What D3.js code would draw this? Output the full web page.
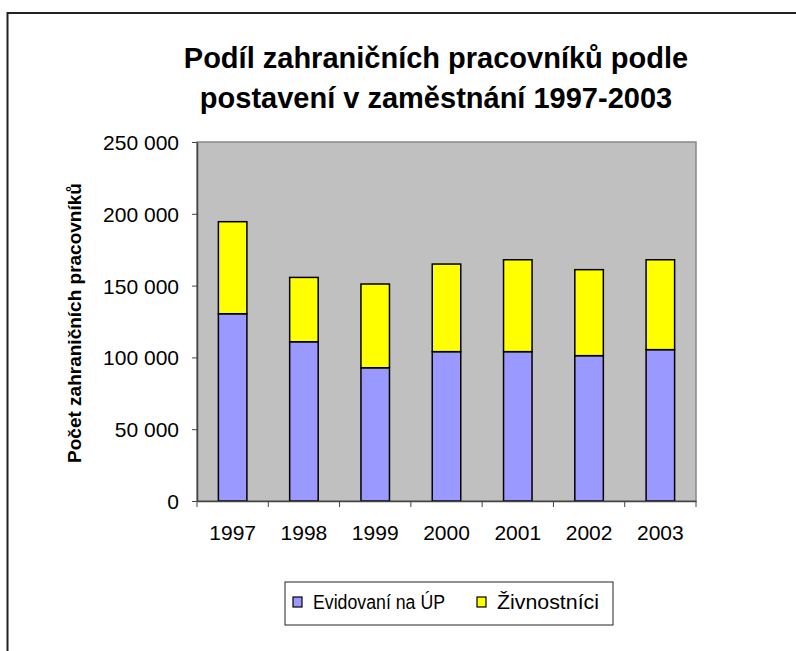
<!DOCTYPE html>
<html lang="cs">
<head>
    <meta charset="UTF-8">
    <title>Podíl zahraničních pracovníků</title>
    <script src="https://d3js.org/d3.v7.min.js"></script>
    <style>
        body {
            margin: 0;
            background: #fff;
            overflow: hidden;
        }
        text {
            font-family: "Liberation Sans", Arial, sans-serif;
            fill: #000;
        }
    </style>
</head>
<body>
<script>
    // data
    const years = ["1997", "1998", "1999", "2000", "2001", "2002", "2003"];
    const evidovani = [130400, 110900, 92800, 104000, 104000, 101200, 105400];
    const zivnostnici = [64100, 44800, 58300, 61000, 64000, 59900, 62600];
    const seriesNames = ["Evidovaní na ÚP", "Živnostníci"];
    const seriesColors = ["#9999ff", "#ffff00"];
    const yTicks = [0, 50000, 100000, 150000, 200000, 250000];

    const width = 796, height = 651;
    const plot = {left: 197, right: 696, top: 142, bottom: 501};

    const svg = d3.select("body").append("svg")
        .attr("width", width)
        .attr("height", height);

    // outer chart frame (runs off the right/bottom edge)
    svg.append("rect")
        .attr("x", 7.5).attr("y", 13)
        .attr("width", 800).attr("height", 700)
        .attr("fill", "#fff")
        .attr("stroke", "#222")
        .attr("stroke-width", 2);

    const x = d3.scaleBand()
        .domain(years)
        .range([plot.left, plot.right])
        .paddingInner(0.6)
        .paddingOuter(0.3);

    const y = d3.scaleLinear()
        .domain([0, 250000])
        .range([plot.bottom, plot.top]);

    // plot area
    svg.append("rect")
        .attr("x", plot.left).attr("y", plot.top)
        .attr("width", plot.right - plot.left)
        .attr("height", plot.bottom - plot.top)
        .attr("fill", "#c0c0c0")
        .attr("stroke", "#888")
        .attr("stroke-width", 1.5);

    // stacked bars
    const rows = years.map((yr, i) => ({year: yr, a: evidovani[i], b: zivnostnici[i]}));
    const stacked = d3.stack().keys(["a", "b"])(rows);

    svg.selectAll("g.series")
        .data(stacked)
        .join("g")
        .attr("class", "series")
        .attr("fill", (d, i) => seriesColors[i])
        .selectAll("rect")
        .data(d => d)
        .join("rect")
        .attr("x", d => x(d.data.year))
        .attr("width", x.bandwidth())
        .attr("y", d => y(d[1]))
        .attr("height", d => y(d[0]) - y(d[1]))
        .attr("stroke", "#000")
        .attr("stroke-width", 1.5);

    const fmt = v => d3.format(",")(v).replace(/,/g, " ");

    // y axis
    const yAxis = svg.append("g")
        .attr("transform", `translate(${plot.left},0)`)
        .call(d3.axisLeft(y).tickValues(yTicks).tickFormat(fmt)
            .tickSize(5).tickSizeOuter(0).tickPadding(13));
    yAxis.select(".domain").attr("stroke", "#444").attr("stroke-width", 1.5);
    yAxis.selectAll(".tick line").attr("stroke", "#444");
    yAxis.selectAll("text").style("font-size", "21px").attr("dy", "0.36em");

    // x axis with ticks between categories
    const xAxis = svg.append("g")
        .attr("transform", `translate(0,${plot.bottom})`)
        .call(d3.axisBottom(x).tickSize(0).tickSizeOuter(0).tickPadding(24));
    xAxis.select(".domain").attr("stroke", "#444").attr("stroke-width", 1.5);
    xAxis.selectAll("text").style("font-size", "21px");
    const edges = d3.range(years.length + 1).map(i => plot.left + i * (plot.right - plot.left) / years.length);
    xAxis.selectAll("line.sep")
        .data(edges)
        .join("line")
        .attr("class", "sep")
        .attr("x1", d => d).attr("x2", d => d)
        .attr("y1", 0).attr("y2", 6)
        .attr("stroke", "#444");

    // title
    svg.append("text")
        .attr("text-anchor", "middle")
        .style("font-size", "29px")
        .style("font-weight", "bold")
        .selectAll("tspan")
        .data(["Podíl zahraničních pracovníků podle", "postavení v zaměstnání 1997-2003"])
        .join("tspan")
        .attr("x", 436)
        .attr("y", (d, i) => 68 + i * 40)
        .text(d => d);

    // y axis title
    svg.append("text")
        .attr("transform", "translate(81,323) rotate(-90)")
        .attr("text-anchor", "middle")
        .style("font-size", "19px")
        .style("font-weight", "bold")
        .text("Počet zahraničních pracovníků");

    // legend
    const legend = svg.append("g");
    legend.append("rect")
        .attr("x", 285).attr("y", 582)
        .attr("width", 328).attr("height", 43)
        .attr("fill", "#fff")
        .attr("stroke", "#222")
        .attr("stroke-width", 1);

    const legendX = [293, 477];
    const legendLen = [132, 102];
    seriesNames.forEach((name, i) => {
        legend.append("rect")
            .attr("x", legendX[i]).attr("y", 597)
            .attr("width", 9).attr("height", 10)
            .attr("fill", seriesColors[i])
            .attr("stroke", "#000")
            .attr("stroke-width", 1.2);
        legend.append("text")
            .attr("x", legendX[i] + 20).attr("y", 609)
            .attr("textLength", legendLen[i])
            .attr("lengthAdjust", "spacingAndGlyphs")
            .style("font-size", "20px")
            .text(name);
    });
</script>
</body>
</html>
